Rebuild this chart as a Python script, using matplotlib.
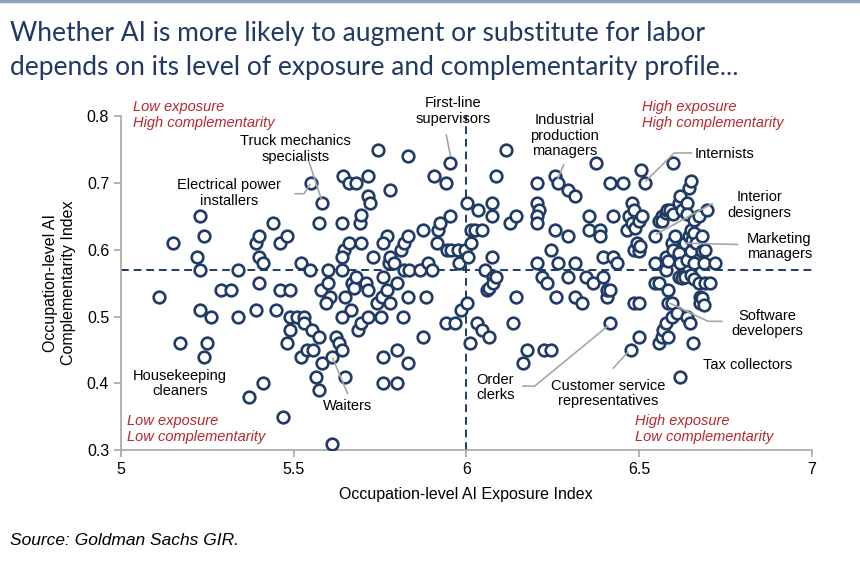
import matplotlib.pyplot as plt
from matplotlib.lines import Line2D

# exposure (x) and complementarity (y) per occupation
exposure = [
    5.11, 5.15, 5.17, 5.22, 5.23, 5.23, 5.23, 5.24, 5.24, 5.25, 5.26, 5.29, 5.32, 5.34, 5.34,
    5.37, 5.39, 5.39, 5.40, 5.40, 5.40, 5.41, 5.41, 5.44, 5.45, 5.46, 5.46, 5.47, 5.48, 5.48,
    5.49, 5.49, 5.49, 5.51, 5.52, 5.52, 5.53, 5.53, 5.54, 5.555, 5.55, 5.554, 5.573, 5.547, 5.574,
    5.583, 5.583, 5.564, 5.573, 5.578, 5.60, 5.605, 5.593, 5.60, 5.61, 5.61, 5.622, 5.63, 5.64, 5.65,
    5.64, 5.64, 5.645, 5.64, 5.643, 5.65, 5.666, 5.64, 5.66, 5.66, 5.67, 5.675, 5.68, 5.68, 5.685,
    5.693, 5.695, 5.695, 5.695, 5.71, 5.714, 5.714, 5.714, 5.714, 5.72, 5.73, 5.74, 5.743, 5.753, 5.755,
    5.77, 5.76, 5.76, 5.76, 5.76, 5.77, 5.775, 5.78, 5.78, 5.78, 5.79, 5.80, 5.80, 5.80, 5.81,
    5.816, 5.82, 5.82, 5.83, 5.83, 5.83, 5.83, 5.835, 5.865, 5.874, 5.874, 5.884, 5.89, 5.90, 5.906,
    5.915, 5.917, 5.925, 5.94, 5.94, 5.945, 5.954, 5.954, 5.955, 5.966, 5.975, 5.98, 5.985, 5.995, 6.003,
    6.003, 6.005, 6.01, 6.015, 6.015, 6.024, 6.032, 6.034, 6.046, 6.046, 6.053, 6.06, 6.067, 6.067, 6.075,
    6.075, 6.075, 6.077, 6.077, 6.085, 6.087, 6.116, 6.126, 6.135, 6.145, 6.145, 6.165, 6.177, 6.206, 6.206,
    6.21, 6.206, 6.206, 6.206, 6.218, 6.226, 6.235, 6.245, 6.245, 6.257, 6.257, 6.26, 6.266, 6.266, 6.295,
    6.295, 6.295, 6.314, 6.314, 6.314, 6.336, 6.346, 6.355, 6.355, 6.368, 6.375, 6.387, 6.387, 6.397, 6.397,
    6.407, 6.407, 6.417, 6.417, 6.417, 6.426, 6.426, 6.436, 6.455, 6.465, 6.47, 6.477, 6.48, 6.48, 6.485,
    6.485, 6.485, 6.49, 6.494, 6.5, 6.5, 6.5, 6.5, 6.503, 6.506, 6.509, 6.518, 6.547, 6.547, 6.547,
    6.557, 6.557, 6.557, 6.567, 6.567, 6.567, 6.57, 6.577, 6.577, 6.577, 6.577, 6.58, 6.584, 6.585, 6.585,
    6.585, 6.59, 6.596, 6.596, 6.597, 6.60, 6.60, 6.60, 6.605, 6.61, 6.62, 6.615, 6.615, 6.615, 6.62,
    6.62, 6.625, 6.625, 6.634, 6.634, 6.64, 6.64, 6.64, 6.64, 6.645, 6.645, 6.648, 6.65, 6.65, 6.65,
    6.65, 6.655, 6.656, 6.66, 6.66, 6.66, 6.66, 6.665, 6.673, 6.673, 6.678, 6.678, 6.683, 6.683, 6.683,
    6.688, 6.688, 6.69, 6.69, 6.697, 6.705, 6.72,
]
complementarity = [
    0.53, 0.61, 0.46, 0.589, 0.65, 0.57, 0.51, 0.62, 0.44, 0.46, 0.50, 0.54, 0.54, 0.57, 0.50,
    0.38, 0.61, 0.51, 0.62, 0.59, 0.55, 0.58, 0.40, 0.64, 0.51, 0.61, 0.54, 0.35, 0.62, 0.46,
    0.54, 0.50, 0.48, 0.50, 0.58, 0.44, 0.50, 0.49, 0.45, 0.45, 0.70, 0.48, 0.47, 0.57, 0.64,
    0.67, 0.43, 0.41, 0.39, 0.54, 0.55, 0.53, 0.52, 0.57, 0.44, 0.31, 0.47, 0.46, 0.45, 0.41,
    0.64, 0.57, 0.60, 0.59, 0.71, 0.53, 0.51, 0.50, 0.61, 0.70, 0.55, 0.543, 0.70, 0.56, 0.48,
    0.64, 0.652, 0.61, 0.49, 0.55, 0.71, 0.68, 0.54, 0.50, 0.67, 0.59, 0.52, 0.75, 0.50, 0.53,
    0.62, 0.61, 0.56, 0.44, 0.40, 0.54, 0.58, 0.69, 0.59, 0.52, 0.58, 0.55, 0.45, 0.40, 0.60,
    0.50, 0.61, 0.57, 0.62, 0.74, 0.53, 0.43, 0.57, 0.57, 0.63, 0.47, 0.53, 0.58, 0.57, 0.71,
    0.61, 0.63, 0.64, 0.70, 0.49, 0.60, 0.73, 0.65, 0.60, 0.49, 0.60, 0.58, 0.51, 0.60, 0.67,
    0.52, 0.59, 0.46, 0.63, 0.61, 0.63, 0.49, 0.66, 0.63, 0.48, 0.57, 0.54, 0.47, 0.543, 0.67,
    0.65, 0.59, 0.56, 0.55, 0.71, 0.56, 0.75, 0.64, 0.49, 0.65, 0.53, 0.43, 0.45, 0.70, 0.67,
    0.66, 0.65, 0.64, 0.58, 0.56, 0.45, 0.55, 0.60, 0.45, 0.71, 0.63, 0.53, 0.70, 0.58, 0.69,
    0.62, 0.56, 0.68, 0.58, 0.53, 0.52, 0.56, 0.65, 0.63, 0.55, 0.73, 0.63, 0.62, 0.59, 0.56,
    0.53, 0.54, 0.70, 0.54, 0.49, 0.65, 0.59, 0.58, 0.70, 0.63, 0.65, 0.45, 0.67, 0.64, 0.66,
    0.60, 0.52, 0.633, 0.61, 0.643, 0.598, 0.52, 0.47, 0.605, 0.72, 0.65, 0.70, 0.62, 0.58, 0.55,
    0.643, 0.55, 0.46, 0.65, 0.643, 0.47, 0.48, 0.655, 0.59, 0.57, 0.49, 0.66, 0.52, 0.583, 0.54,
    0.47, 0.66, 0.61, 0.52, 0.50, 0.73, 0.653, 0.60, 0.62, 0.505, 0.41, 0.67, 0.595, 0.56, 0.68,
    0.58, 0.66, 0.558, 0.61, 0.56, 0.67, 0.653, 0.585, 0.50, 0.693, 0.62, 0.49, 0.703, 0.63, 0.563,
    0.598, 0.615, 0.46, 0.645, 0.625, 0.58, 0.556, 0.61, 0.65, 0.55, 0.53, 0.52, 0.62, 0.598, 0.528,
    0.58, 0.518, 0.55, 0.60, 0.66, 0.55, 0.58,
]

# average lines splitting the quadrants
exposure_mid = 6.0
complementarity_mid = 0.57

navy = '#1F3B66'
red = '#B5282E'
grey = '#A6A6A6'

plt.rcParams['font.family'] = ['Liberation Sans', 'DejaVu Sans']

fig = plt.figure(figsize=(8.6, 5.84), dpi=100)
ax = fig.add_axes([0.1407, 0.229, 0.803, 0.572])

ax.scatter(exposure, complementarity, s=70, facecolors='white', edgecolors=navy,
           linewidths=1.9, zorder=3)

ax.axhline(complementarity_mid, color=navy, ls=(0, (4, 2.5)), lw=1.4, zorder=2)
ax.axvline(exposure_mid, color=navy, ls=(0, (4, 2.5)), lw=1.4, zorder=2)

ax.set_xlim(5, 7)
ax.set_ylim(0.3, 0.8)
ax.set_xticks([5, 5.5, 6, 6.5, 7])
ax.set_xticklabels(['5', '5.5', '6', '6.5', '7'])
ax.set_yticks([0.3, 0.4, 0.5, 0.6, 0.7, 0.8])
for side in ['top', 'right']:
    ax.spines[side].set_visible(False)
for side in ['left', 'bottom']:
    ax.spines[side].set_color('#A6A6A6')
    ax.spines[side].set_linewidth(1.2)
ax.tick_params(axis='both', colors='#A6A6A6', labelcolor='black', labelsize=11.5,
               length=5, width=1.2)
ax.set_xlabel('Occupation-level AI Exposure Index', fontsize=11.5, labelpad=7)
ax.set_ylabel('Occupation-level AI\nComplementarity Index', fontsize=11.5, labelpad=8)

# quadrant captions
quad = dict(color=red, style='italic', fontsize=10.5, va='center', ha='left',
            linespacing=1.25, clip_on=False)
ax.text(5.035, 0.802, 'Low exposure\nHigh complementarity', **quad)
ax.text(6.509, 0.802, 'High exposure\nHigh complementarity', **quad)
ax.text(5.017, 0.332, 'Low exposure\nLow complementarity', **quad)
ax.text(6.488, 0.332, 'High exposure\nLow complementarity', **quad)

# occupation labels with leader lines
lab = dict(fontsize=10.5, ha='center', va='center', linespacing=1.15, zorder=5)
ax.text(5.962, 0.808, 'First-line\nsupervisors', clip_on=False, **lab)
ax.plot([5.942, 5.954], [0.772, 0.741], color=grey, lw=1.2, zorder=4)

ax.text(6.285, 0.771, 'Industrial\nproduction\nmanagers', **lab)
ax.plot([6.282, 6.265], [0.727, 0.707], color=grey, lw=1.2, zorder=4)

ax.text(5.506, 0.751, 'Truck mechanics\nspecialists', **lab)
ax.plot([5.545, 5.58], [0.731, 0.676], color=grey, lw=1.2, zorder=4)

ax.text(5.314, 0.685, 'Electrical power\ninstallers', **lab)
ax.plot([5.505, 5.53, 5.547], [0.684, 0.684, 0.698], color=grey, lw=1.2, zorder=4)

ax.text(6.66, 0.744, 'Internists', fontsize=10.5, ha='left', va='center')
ax.plot([6.652, 6.602, 6.52], [0.745, 0.745, 0.703], color=grey, lw=1.2, zorder=4)

ax.text(6.849, 0.667, 'Interior\ndesigners', **lab)
ax.plot([6.712, 6.552], [0.669, 0.624], color=grey, lw=1.2, zorder=4)

ax.text(6.907, 0.605, 'Marketing\nmanagers', **lab)
ax.plot([6.634, 6.785], [0.61, 0.608], color=grey, lw=1.2, zorder=4)

ax.text(6.872, 0.49, 'Software\ndevelopers', **lab)
ax.plot([6.59, 6.70, 6.74], [0.52, 0.493, 0.493], color=grey, lw=1.2, zorder=4)

ax.text(6.814, 0.427, 'Tax collectors', **lab)

ax.text(6.41, 0.385, 'Customer service\nrepresentatives', **lab)
ax.plot([6.426, 6.468], [0.423, 0.447], color=grey, lw=1.2, zorder=4)

ax.text(6.084, 0.394, 'Order\nclerks', **lab)
ax.plot([6.165, 6.198, 6.41], [0.396, 0.396, 0.486], color=grey, lw=1.2, zorder=4)

ax.text(5.17, 0.40, 'Housekeeping\ncleaners', **lab)

ax.text(5.657, 0.366, 'Waiters', **lab)
ax.plot([5.613, 5.656], [0.438, 0.385], color=grey, lw=1.2, zorder=4)

# title, top rule and source
fig.add_artist(Line2D([0, 1], [0.998, 0.998], color='#8EA2BF', lw=2.5))
title_font = ['Lato', 'DejaVu Sans']
fig.text(0.012, 0.942, 'Whether AI is more likely to augment or substitute for labor',
         fontsize=19, color='#1F3864', family=title_font, va='center')
fig.text(0.012, 0.885, 'depends on its level of exposure and complementarity profile...',
         fontsize=19, color='#1F3864', family=title_font, va='center')
fig.text(0.012, 0.075, 'Source: Goldman Sachs GIR.', fontsize=12.5, style='italic',
         va='center')

fig.savefig('out.png', dpi=100)
